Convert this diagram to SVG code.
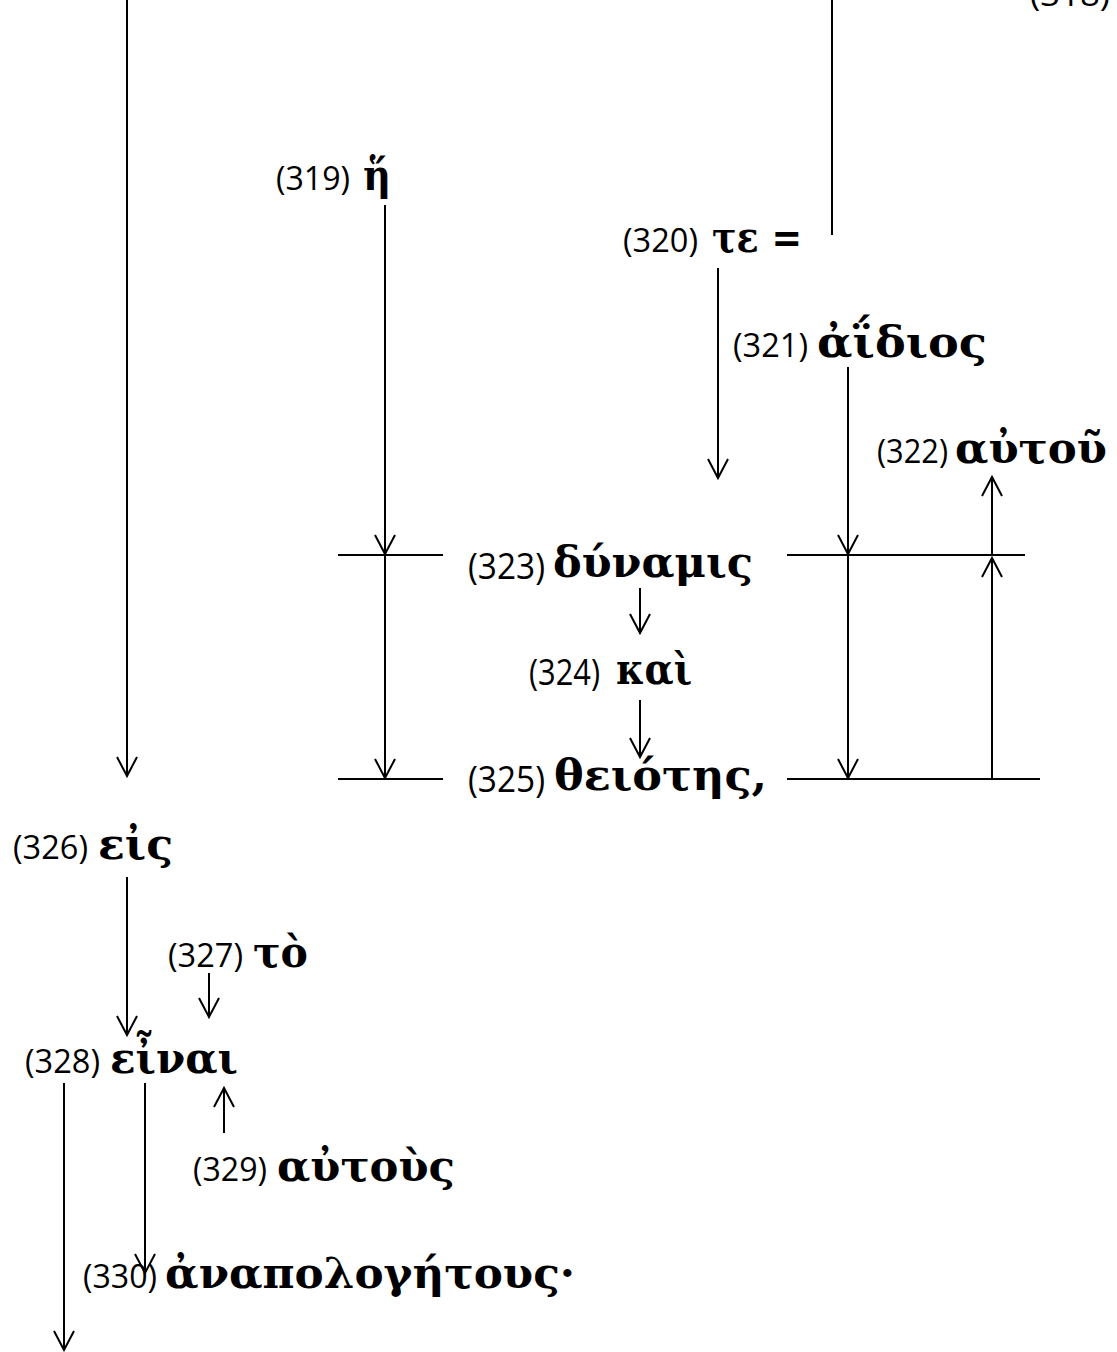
<svg xmlns="http://www.w3.org/2000/svg" width="1117" height="1352" viewBox="0 0 1117 1352">
<style>
.lbl{font-family:"Open Sans","Liberation Sans",sans-serif;font-size:32px;fill:#000}
.lbl2{font-family:"Open Sans","Liberation Sans",sans-serif;font-size:37px;fill:#000}
.gk{font-family:"DejaVu Serif","Noto Serif",serif;font-weight:bold;font-size:42px;fill:#000}
.ln{stroke:#000;stroke-width:2;fill:none}
.ar{stroke:#000;stroke-width:2;fill:none;marker-end:url(#arr)}
</style>
<defs>
<marker id="arr" markerUnits="userSpaceOnUse" markerWidth="30" markerHeight="30" refX="0" refY="0" orient="auto" overflow="visible">
<path d="M-19,-10 L0,0 L-19,10" fill="none" stroke="#000" stroke-width="2"/>
</marker>
</defs>
<rect width="1117" height="1352" fill="#fff"/>
<g id="connectors">
<line class="ar" x1="127" y1="0" x2="127" y2="776"/>
<line class="ln" x1="832" y1="0" x2="832" y2="235"/>
<line class="ar" x1="385" y1="205" x2="385" y2="554"/>
<line class="ar" x1="385" y1="556" x2="385" y2="778"/>
<line class="ar" x1="718" y1="268" x2="718" y2="478"/>
<line class="ar" x1="848" y1="367" x2="848" y2="554"/>
<line class="ar" x1="848" y1="556" x2="848" y2="778"/>
<line class="ar" x1="992" y1="555" x2="992" y2="477"/>
<line class="ar" x1="992" y1="779" x2="992" y2="558"/>
<line class="ln" x1="338" y1="555" x2="443" y2="555"/>
<line class="ln" x1="787" y1="555" x2="1025" y2="555"/>
<line class="ln" x1="338" y1="779" x2="443" y2="779"/>
<line class="ln" x1="787" y1="779" x2="1040" y2="779"/>
<line class="ar" x1="640" y1="588" x2="640" y2="633"/>
<line class="ar" x1="640" y1="700" x2="640" y2="757"/>
<line class="ar" x1="127" y1="877" x2="127" y2="1035"/>
<line class="ar" x1="209" y1="973" x2="209" y2="1017"/>
<line class="ar" x1="224" y1="1133" x2="224" y2="1088"/>
<line class="ar" x1="64" y1="1083" x2="64" y2="1350"/>
<line class="ar" x1="145" y1="1083" x2="145" y2="1273"/>
</g>
<g id="n318"><text class="lbl" x="1030" y="6" textLength="80" lengthAdjust="spacingAndGlyphs">(318)</text></g>
<g id="n319"><text class="lbl" x="276" y="190" textLength="74" lengthAdjust="spacingAndGlyphs">(319)</text><text class="gk" x="363" y="190" textLength="28" lengthAdjust="spacingAndGlyphs">ἥ</text></g>
<g id="n320"><text class="lbl" x="623" y="252" textLength="75" lengthAdjust="spacingAndGlyphs">(320)</text><text class="gk" x="712" y="252" textLength="90" lengthAdjust="spacingAndGlyphs">τε =</text></g>
<g id="n321"><text class="lbl" x="733" y="357" textLength="75" lengthAdjust="spacingAndGlyphs">(321)</text><text class="gk" x="817" y="357" textLength="170" lengthAdjust="spacingAndGlyphs">ἀΐδιος</text></g>
<g id="n322"><text class="lbl" x="877" y="463" textLength="71" lengthAdjust="spacingAndGlyphs">(322)</text><text class="gk" x="955" y="463" textLength="152" lengthAdjust="spacingAndGlyphs">αὐτοῦ</text></g>
<g id="n323"><text class="lbl2" x="468" y="579" textLength="77" lengthAdjust="spacingAndGlyphs">(323)</text><text class="gk" x="553" y="577" textLength="200" lengthAdjust="spacingAndGlyphs">δύναμις</text></g>
<g id="n324"><text class="lbl2" x="529" y="685" textLength="71" lengthAdjust="spacingAndGlyphs">(324)</text><text class="gk" x="616" y="684" textLength="76" lengthAdjust="spacingAndGlyphs">καὶ</text></g>
<g id="n325"><text class="lbl2" x="468" y="792" textLength="77" lengthAdjust="spacingAndGlyphs">(325)</text><text class="gk" x="554" y="790" textLength="213" lengthAdjust="spacingAndGlyphs">θειότης,</text></g>
<g id="n326"><text class="lbl" x="13" y="859" textLength="75" lengthAdjust="spacingAndGlyphs">(326)</text><text class="gk" x="98" y="859" textLength="75" lengthAdjust="spacingAndGlyphs">εἰς</text></g>
<g id="n327"><text class="lbl" x="168" y="967" textLength="75" lengthAdjust="spacingAndGlyphs">(327)</text><text class="gk" x="253" y="967" textLength="55" lengthAdjust="spacingAndGlyphs">τὸ</text></g>
<g id="n328"><text class="lbl" x="25" y="1073" textLength="75" lengthAdjust="spacingAndGlyphs">(328)</text><text class="gk" x="110" y="1073" textLength="128" lengthAdjust="spacingAndGlyphs">εἶναι</text></g>
<g id="n329"><text class="lbl" x="193" y="1181" textLength="74" lengthAdjust="spacingAndGlyphs">(329)</text><text class="gk" x="277" y="1181" textLength="178" lengthAdjust="spacingAndGlyphs">αὐτοὺς</text></g>
<g id="n330"><text class="lbl" x="83" y="1288" textLength="74" lengthAdjust="spacingAndGlyphs">(330)</text><text class="gk" x="165" y="1288" textLength="410" lengthAdjust="spacingAndGlyphs">ἀναπολογήτους·</text></g>
</svg>
